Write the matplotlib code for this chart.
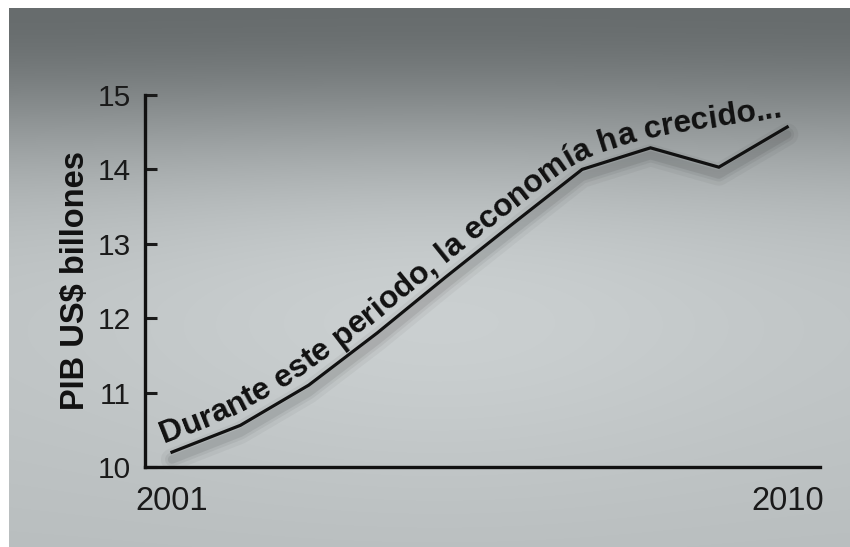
import numpy as np
import matplotlib
matplotlib.use("Agg")
import matplotlib.pyplot as plt
from matplotlib.transforms import IdentityTransform
from matplotlib.font_manager import FontProperties

# values
years = [2001, 2002, 2003, 2004, 2005, 2006, 2007, 2008, 2009, 2010]
gdp = [10.2, 10.56, 11.1, 11.8, 12.55, 13.28, 14.0, 14.29, 14.03, 14.57]
yticks = [10, 11, 12, 13, 14, 15]
xticks = [2001, 2010]
caption = "Durante este periodo, la economía ha crecido..."

plt.rcParams['font.family'] = ['Liberation Sans', 'DejaVu Sans']

W, H = 850, 547
fig = plt.figure(figsize=(W / 100, H / 100), dpi=100)
fig.patch.set_facecolor('white')

# grey photo-like backdrop (darker on top, light in the middle)
bg = fig.add_axes([9 / W, 0, 1 - 9 / W, 1 - 8 / H], zorder=-10)
yy, xx = np.mgrid[0:539, 0:841]
v = 108 + 92 * (1 - np.exp(-(yy / 150.0) ** 2))
v -= 10 * (yy / 539.0) ** 2
v += 12 * np.exp(-(((xx - 430) / 330.0) ** 2 + ((yy - 300) / 170.0) ** 2))
img = np.dstack([v - 5, v, v + 1]) / 255.0
bg.imshow(np.clip(img, 0, 1), aspect='auto', interpolation='bilinear')
bg.axis('off')

ax = fig.add_axes([145 / W, 80 / H, 675 / W, 372 / H])
ax.patch.set_alpha(0)

# soft shadow below the line
for lw, a in [(16, 0.04), (10, 0.05), (6, 0.07)]:
    ax.plot(years, np.array(gdp) - 0.1, color='black', lw=lw, alpha=a,
            solid_capstyle='round', solid_joinstyle='round')
ax.plot(years, gdp, color='#111111', lw=2.3, solid_joinstyle='miter')

ax.set_xlim(2000.605, 2010.48)
ax.set_ylim(10, 15)
ax.set_yticks(yticks)
ax.set_xticks(xticks)
ax.tick_params(axis='y', direction='in', length=8.5, width=2.2,
               labelsize=21.5, pad=10, colors='#1a1a1a')
ax.tick_params(axis='x', length=0, labelsize=23.5, pad=14, colors='#1a1a1a')
for side in ['top', 'right']:
    ax.spines[side].set_visible(False)
for side in ['left', 'bottom']:
    ax.spines[side].set_linewidth(2.4)
    ax.spines[side].set_color('#111111')
ax.spines['left'].set_capstyle('projecting')
ax.set_ylabel("PIB US$ billones", fontsize=23.5, fontweight='bold',
              color='#111111', labelpad=5)

# caption written along the curve
fig.canvas.draw()
renderer = fig.canvas.get_renderer()
pts = ax.transData.transform(np.column_stack([years, gdp]))
keep = [0] + [i for i in range(1, len(gdp) - 1)
              if not (gdp[i] < gdp[i - 1] and gdp[i] < gdp[i + 1])] + [len(gdp) - 1]
guide = pts[keep]
seg = np.hypot(*np.diff(guide, axis=0).T)
cum = np.concatenate([[0], np.cumsum(seg)])
s = np.arange(0, cum[-1], 1.0)
gx = np.interp(s, cum, guide[:, 0])
gy = np.interp(s, cum, guide[:, 1])
k = 61
kern = np.ones(k) / k
gx = np.convolve(np.pad(gx, k // 2, mode='reflect', reflect_type='odd'), kern, 'valid')
gy = np.convolve(np.pad(gy, k // 2, mode='reflect', reflect_type='odd'), kern, 'valid')
tx, ty = np.gradient(gx), np.gradient(gy)
nrm = np.hypot(tx, ty)
tx, ty = tx / nrm, ty / nrm
off = 11
ox, oy = gx - off * ty, gy + off * tx
oseg = np.hypot(np.diff(ox), np.diff(oy))
ocum = np.concatenate([[0], np.cumsum(oseg)])
ang = np.degrees(np.arctan2(ty, tx))

fp = FontProperties(family=['Liberation Sans', 'DejaVu Sans'], size=10,
                    weight='bold')


def width(t):
    w, _, _ = renderer.get_text_width_height_descent(t + '|', fp, ismath=False)
    w0, _, _ = renderer.get_text_width_height_descent('|', fp, ismath=False)
    return w - w0


start = -4.0
avail = ocum[-1] - 2 - start
fp.set_size(10 * avail / width(caption))
edges = [width(caption[:i]) for i in range(len(caption) + 1)]
scale = avail / edges[-1]
for i, ch in enumerate(caption):
    if ch == ' ':
        continue
    sc = start + scale * (edges[i] + edges[i + 1]) / 2
    px = np.interp(sc, ocum, ox)
    py = np.interp(sc, ocum, oy)
    a = np.interp(sc, ocum, ang)
    if sc < 0:
        px = ox[0] + sc * tx[0]
        py = oy[0] + sc * ty[0]
    fig.text(px, py, ch, transform=IdentityTransform(), fontproperties=fp,
             rotation=a, rotation_mode='anchor', ha='center', va='baseline',
             color='#111111')

fig.savefig('out.png', dpi=100)
